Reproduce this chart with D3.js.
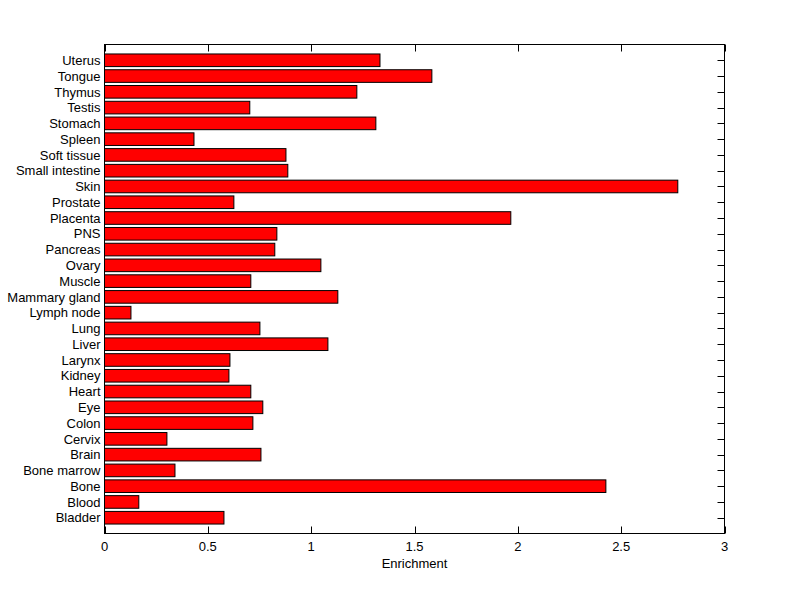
<!DOCTYPE html>
<html><head><meta charset="utf-8">
<script src="https://cdn.jsdelivr.net/npm/d3@7"></script>
<style>body{margin:0;background:#fff}svg{display:block}text{font-family:"Liberation Sans",Arial,sans-serif}</style>
</head><body><div id="c"></div>
<script>
const categories = ["Bladder","Blood","Bone","Bone marrow","Brain","Cervix","Colon","Eye","Heart","Kidney","Larynx","Liver","Lung","Lymph node","Mammary gland","Muscle","Ovary","Pancreas","PNS","Placenta","Prostate","Skin","Small intestine","Soft tissue","Spleen","Stomach","Testis","Thymus","Tongue","Uterus"];
const values = [0.578,0.166,2.426,0.341,0.757,0.302,0.718,0.766,0.708,0.602,0.607,1.081,0.752,0.128,1.129,0.708,1.047,0.824,0.834,1.966,0.626,2.774,0.887,0.878,0.433,1.313,0.703,1.221,1.584,1.333];
const xTicks = [0,0.5,1,1.5,2,2.5,3];
const xLabel = "Enrichment";

(function(){
const W=800,H=599;
const mL=104.5,mR=724.5,mT=44.5,mB=533.5;
const fs=13;
const svg=d3.select("#c").append("svg").attr("width",W).attr("height",H);
const x=d3.scaleLinear().domain([0,3]).range([mL,mR]);
const y=d3.scaleLinear().domain([0,categories.length+1]).range([mB,mT]);
const bh=(y(0)-y(0.8));

svg.append("g").selectAll("rect").data(values).join("rect")
  .attr("x",x(0)).attr("y",(d,i)=>y(i+1)-bh/2)
  .attr("width",d=>x(d)-x(0)).attr("height",bh)
  .attr("fill","#ff0000").attr("stroke","#000").attr("stroke-width",1);

svg.append("rect").attr("x",mL).attr("y",mT).attr("width",mR-mL).attr("height",mB-mT)
  .attr("fill","none").attr("stroke","#000").attr("stroke-width",1);

const tl=7;
const gx=svg.append("g");
xTicks.forEach(t=>{
  const px=Math.round(x(t))+0.5;
  gx.append("line").attr("x1",px).attr("x2",px).attr("y1",mB).attr("y2",mB-tl).attr("stroke","#000");
  gx.append("line").attr("x1",px).attr("x2",px).attr("y1",mT).attr("y2",mT+tl).attr("stroke","#000");
  gx.append("text").attr("x",x(t)).attr("y",mB+17).attr("text-anchor","middle").attr("font-size",fs).text(d3.format("")(t));
});
const gy=svg.append("g");
categories.forEach((c,i)=>{
  const py=Math.round(y(i+1))+0.5;
  gy.append("line").attr("x1",mR).attr("x2",mR-tl).attr("y1",py).attr("y2",py).attr("stroke","#000");
  gy.append("text").attr("x",mL-4).attr("y",y(i+1)).attr("dy","0.36em").attr("text-anchor","end").attr("font-size",fs).text(c);
});
svg.append("text").attr("x",(mL+mR)/2).attr("y",mB+34).attr("text-anchor","middle").attr("font-size",fs).text(xLabel);
})();
</script></body></html>
